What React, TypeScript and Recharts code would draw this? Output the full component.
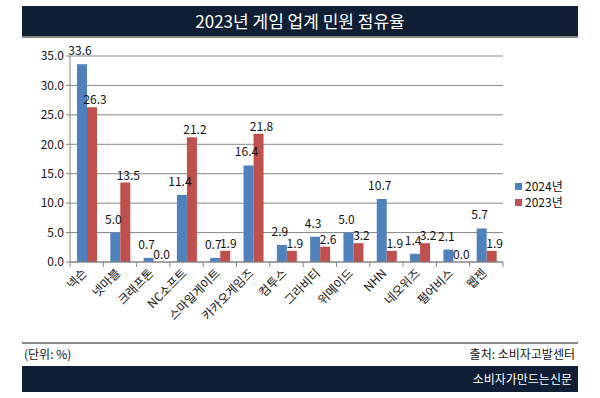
import React from "react";
import { BarChart, Bar, XAxis, YAxis, CartesianGrid, LabelList } from "recharts";

const BLUE = "#4f81bd";
const RED = "#c0504d";
const NAVY = "#101f33";
const FONT = "'Noto Sans CJK KR', 'Noto Sans', sans-serif";

const companies = ["넥슨", "넷마블", "크래프톤", "NC소프트", "스마일게이트", "카카오게임즈", "컴투스", "그라비티", "위메이드", "NHN", "네오위즈", "펄어비스", "웹젠"];
const share2024 = [33.6, 5.0, 0.7, 11.4, 0.7, 16.4, 2.9, 4.3, 5.0, 10.7, 1.4, 2.1, 5.7];
const share2023 = [26.3, 13.5, 0.0, 21.2, 1.9, 21.8, 1.9, 2.6, 3.2, 1.9, 3.2, 0.0, 1.9];
const yTicks = [0, 5, 10, 15, 20, 25, 30, 35];

const data = companies.map((name, i) => ({ name, y2024: share2024[i], y2023: share2023[i] }));

const PLOT_LEFT = 70;
const PLOT_RIGHT = 503;
const PLOT_TOP = 56;
const PLOT_BOTTOM = 262;
const BAND = (PLOT_RIGHT - PLOT_LEFT) / companies.length;

function CategoryTick(props: any) {
  const { x, payload, index } = props;
  return (
    <g>
      <line x1={x - BAND / 2} y1={PLOT_BOTTOM} x2={x - BAND / 2} y2={PLOT_BOTTOM + 5} stroke="#868686" />
      {index === companies.length - 1 && (
        <line x1={x + BAND / 2} y1={PLOT_BOTTOM} x2={x + BAND / 2} y2={PLOT_BOTTOM + 5} stroke="#868686" />
      )}
      <text
        x={x + 1}
        y={PLOT_BOTTOM + 12}
        textAnchor="end"
        transform={`rotate(-45 ${x + 1} ${PLOT_BOTTOM + 12})`}
        fontSize={12}
        fill="#111"
        fontFamily={FONT}
      >
        {payload.value}
      </text>
    </g>
  );
}

// value above each bar (also zero-height ones); shiftX/lift mimic the excel placement
function ValueLabel(props: any) {
  const { x, y, width, value, shiftX = 0, lift = 4 } = props;
  return (
    <text x={x + width / 2 + shiftX} y={y - lift} textAnchor="middle" fontSize={12} fill="#111" fontFamily={FONT}>
      {Number(value).toFixed(1)}
    </text>
  );
}

export default function App() {
  return (
    <div style={{ position: "absolute", left: 0, top: 0, width: 600, height: 398, background: "#fff", fontFamily: FONT }}>
      <div style={{ position: "absolute", left: 22, top: 6, width: 556, height: 30, background: NAVY, color: "#fff", fontSize: 17, lineHeight: "30px", textAlign: "center" }}>
        2023년 게임 업계 민원 점유율
      </div>
      <div style={{ position: "absolute", left: 22, top: 36, width: 556, height: 2, background: "#8a8a8a" }} />

      <BarChart
        width={600}
        height={398}
        data={data}
        margin={{ top: PLOT_TOP, right: 600 - PLOT_RIGHT, bottom: 0, left: 0 }}
        barCategoryGap="21%"
        barGap={0}
        style={{ position: "absolute", left: 0, top: 0 }}
      >
        <CartesianGrid horizontal vertical={false} stroke="#868686" />
        <XAxis
          dataKey="name"
          interval={0}
          axisLine={{ stroke: "#868686" }}
          tickLine={false}
          tick={<CategoryTick />}
          height={398 - PLOT_BOTTOM}
        />
        <YAxis
          domain={[0, 35]}
          ticks={yTicks}
          tickFormatter={(v: number) => v.toFixed(1)}
          axisLine={{ stroke: "#868686" }}
          tickLine={{ stroke: "#868686" }}
          tickSize={4}
          width={PLOT_LEFT}
          tick={{ fontSize: 12, fill: "#111", fontFamily: FONT }}
        />
        <Bar dataKey="y2024" fill={BLUE} minPointSize={0.1} isAnimationActive={false}>
          <LabelList dataKey="y2024" content={<ValueLabel shiftX={-2} lift={9} />} />
        </Bar>
        <Bar dataKey="y2023" fill={RED} minPointSize={0.1} isAnimationActive={false}>
          <LabelList dataKey="y2023" content={<ValueLabel shiftX={3} lift={3} />} />
        </Bar>
      </BarChart>

      <div style={{ position: "absolute", left: 515, top: 178, fontSize: 12, color: "#111", lineHeight: "16px" }}>
        <div style={{ display: "flex", alignItems: "center" }}>
          <span style={{ width: 7, height: 7, background: BLUE, marginRight: 3 }} />2024년
        </div>
        <div style={{ display: "flex", alignItems: "center" }}>
          <span style={{ width: 7, height: 7, background: RED, marginRight: 3 }} />2023년
        </div>
      </div>

      <div style={{ position: "absolute", left: 22, top: 342, width: 556, height: 2, background: "#8a8a8a" }} />
      <div style={{ position: "absolute", left: 24, top: 345, fontSize: 12, color: "#111" }}>(단위: %)</div>
      <div style={{ position: "absolute", right: 25, top: 345, fontSize: 12, color: "#111" }}>출처: 소비자고발센터</div>
      <div style={{ position: "absolute", left: 22, top: 366, width: 556, height: 26, background: NAVY, color: "#fff", fontSize: 12, lineHeight: "26px", textAlign: "right", boxSizing: "border-box", paddingRight: 6 }}>
        소비자가만드는신문
      </div>
    </div>
  );
}
